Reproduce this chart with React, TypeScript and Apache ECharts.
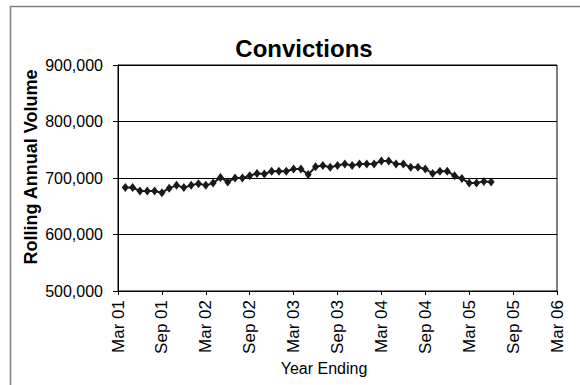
import React, { useEffect, useRef } from "react";
import * as echarts from "echarts";

const titleText = "Convictions";
const yAxisName = "Rolling Annual Volume";
const xAxisName = "Year Ending";

const tickLabels = ["Mar 01", "Sep 01", "Mar 02", "Sep 02", "Mar 03", "Sep 03", "Mar 04", "Sep 04", "Mar 05", "Sep 05", "Mar 06"];

const months = [
  "Apr 01", "May 01", "Jun 01", "Jul 01", "Aug 01", "Sep 01", "Oct 01", "Nov 01", "Dec 01",
  "Jan 02", "Feb 02", "Mar 02", "Apr 02", "May 02", "Jun 02", "Jul 02", "Aug 02", "Sep 02", "Oct 02", "Nov 02", "Dec 02",
  "Jan 03", "Feb 03", "Mar 03", "Apr 03", "May 03", "Jun 03", "Jul 03", "Aug 03", "Sep 03", "Oct 03", "Nov 03", "Dec 03",
  "Jan 04", "Feb 04", "Mar 04", "Apr 04", "May 04", "Jun 04", "Jul 04", "Aug 04", "Sep 04", "Oct 04", "Nov 04", "Dec 04",
  "Jan 05", "Feb 05", "Mar 05", "Apr 05", "May 05", "Jun 05",
];

const convictions = [
  683000, 683000, 677000, 677000, 677000, 674000, 682000, 687000, 683000,
  687000, 690000, 687000, 691000, 701000, 693000, 700000, 700000, 704000, 708000, 707000, 712000,
  712000, 712000, 716000, 716000, 706000, 720000, 722000, 719000, 722000, 725000, 722000, 725000,
  725000, 725000, 730000, 730000, 725000, 725000, 719000, 719000, 716000, 708000, 712000, 712000,
  704000, 699000, 691000, 691000, 694000, 693000,
];

const monthNames = ["Jan", "Feb", "Mar", "Apr", "May", "Jun", "Jul", "Aug", "Sep", "Oct", "Nov", "Dec"];
const monthIndex = (label: string) => {
  const [m, y] = label.split(" ");
  return (parseInt(y, 10) - 1) * 12 + monthNames.indexOf(m) - 2;
};

const FONT = '"Liberation Sans", Arial, sans-serif';

export default function App() {
  const ref = useRef<HTMLDivElement>(null);
  useEffect(() => {
    if (!ref.current) return;
    const chart = echarts.init(ref.current, undefined, { renderer: "svg" });
    chart.setOption({
      animation: false,
      backgroundColor: "#fff",
      textStyle: { fontFamily: FONT },
      grid: {
        left: 118,
        right: 23,
        top: 65,
        bottom: 94,
        show: true,
        borderColor: "#000",
        borderWidth: 1,
        backgroundColor: "transparent",
      },
      xAxis: {
        type: "value",
        min: 0,
        max: 60,
        interval: 6,
        splitLine: { show: false },
        axisLine: { show: true, lineStyle: { color: "#000", width: 1 } },
        axisTick: { show: true, length: 4, lineStyle: { color: "#000" } },
        axisLabel: {
          rotate: 90,
          margin: 9,
          fontSize: 17,
          color: "#000",
          fontFamily: FONT,
          padding: [8, 0, 0, 0],
          formatter: (v: number) => tickLabels[Math.round(v / 6)] ?? "",
        },
      },
      yAxis: {
        type: "value",
        min: 500000,
        max: 900000,
        interval: 100000,
        splitLine: { show: true, lineStyle: { color: "#000", width: 1 } },
        axisLine: { show: true, lineStyle: { color: "#000", width: 1 } },
        axisTick: { show: true, length: 5, lineStyle: { color: "#000" } },
        axisLabel: {
          margin: 15,
          fontSize: 16,
          color: "#000",
          fontFamily: FONT,
          formatter: (v: number) => v.toLocaleString("en-US"),
        },
      },
      series: [
        {
          type: "line",
          data: months.map((m, i) => [monthIndex(m), convictions[i]]),
          color: "#1a1a1a",
          lineStyle: { color: "#1a1a1a", width: 2 },
          itemStyle: { color: "#1a1a1a" },
          symbol: "diamond",
          symbolSize: [7, 9],
          showSymbol: true,
        },
      ],
      graphic: [
        {
          type: "rect",
          silent: true,
          z: -10,
          shape: { x: 10.5, y: 6.5, width: 700, height: 500 },
          style: { fill: "none", stroke: "#808080", lineWidth: 1.5 },
        },
        {
          type: "text",
          x: 304,
          y: 48,
          style: {
            text: titleText,
            font: `bold 24px ${FONT}`,
            fill: "#000",
            align: "center",
            verticalAlign: "middle",
            textAlign: "center",
            textVerticalAlign: "middle",
          },
        },
        {
          type: "text",
          x: 31,
          y: 167,
          rotation: Math.PI / 2,
          style: {
            text: yAxisName,
            font: `bold 18px ${FONT}`,
            fill: "#000",
            align: "center",
            verticalAlign: "middle",
            textAlign: "center",
            textVerticalAlign: "middle",
          },
        },
        {
          type: "text",
          x: 324,
          y: 368,
          style: {
            text: xAxisName,
            font: `16px ${FONT}`,
            fill: "#000",
            align: "center",
            verticalAlign: "middle",
            textAlign: "center",
            textVerticalAlign: "middle",
          },
        },
      ],
    });
    return () => chart.dispose();
  }, []);
  return (
    <div
      ref={ref}
      style={{ position: "absolute", left: 0, top: 0, width: 580, height: 385 }}
    />
  );
}
